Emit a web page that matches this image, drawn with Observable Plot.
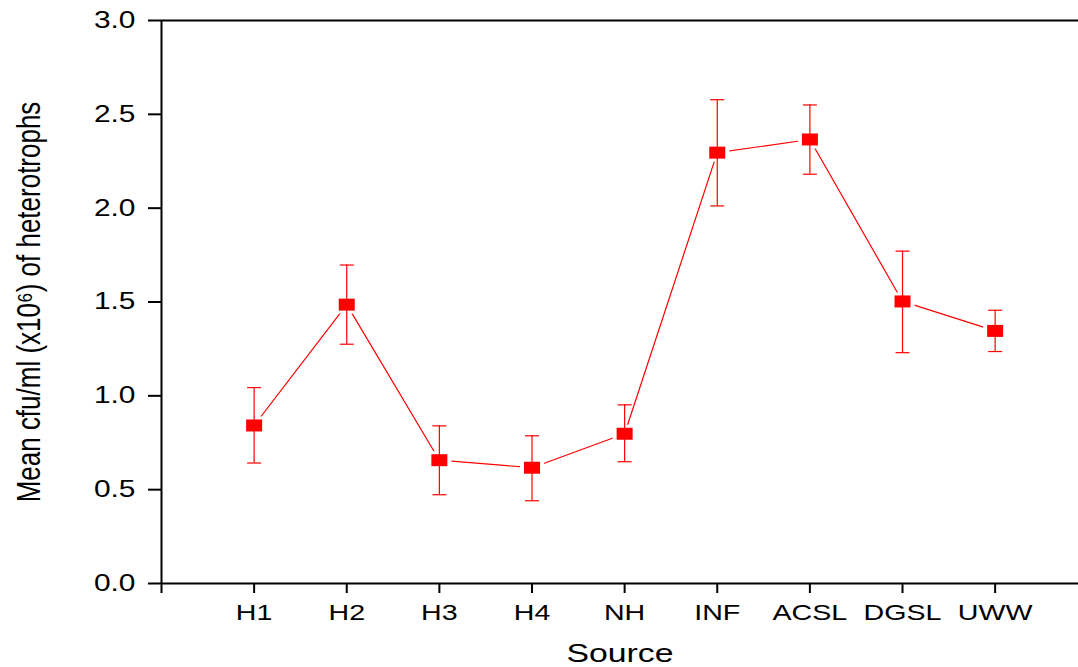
<!DOCTYPE html>
<html>
<head>
<meta charset="utf-8">
<script src="https://cdn.jsdelivr.net/npm/d3@7"></script>
<script src="https://cdn.jsdelivr.net/npm/@observablehq/plot@0.6"></script>
<style>
  html, body { margin: 0; padding: 0; background: #fff; }
  #chart svg { display: block; }
</style>
</head>
<body>
<div id="chart"></div>
<script>
const categories = ["H1", "H2", "H3", "H4", "NH", "INF", "ACSL", "DGSL", "UWW"];
const means = [0.842, 1.486, 0.657, 0.617, 0.798, 2.296, 2.366, 1.503, 1.346];
const upper = [1.044, 1.697, 0.840, 0.787, 0.952, 2.578, 2.550, 1.771, 1.456];
const lower = [0.642, 1.275, 0.473, 0.441, 0.649, 2.012, 2.181, 1.230, 1.236];
const yTicks = [0, 0.5, 1.0, 1.5, 2.0, 2.5, 3.0];
const xTicks = [0, 1, 2, 3, 4, 5, 6, 7, 8, 9];

const data = categories.map((c, i) => ({pos: i + 1, cat: c, mean: means[i], hi: upper[i], lo: lower[i]}));

const RED = "#ff0000";
const markerSym = {draw(ctx) { ctx.rect(-8, -6, 16, 12); }};
const haloSym = {draw(ctx) { ctx.rect(-12, -9, 24, 18); }};
const capSym = {draw(ctx) { ctx.moveTo(-7, 0); ctx.lineTo(7, 0); }};

const chart = Plot.plot({
  width: 1078,
  height: 667,
  marginLeft: 161,
  marginRight: 0,
  marginTop: 20,
  marginBottom: 84,
  style: {fontFamily: "'Liberation Sans', Arial, sans-serif", background: "#fff", color: "#000"},
  x: {type: "linear", domain: [0, 9.9]},
  y: {domain: [0, 3]},
  marks: [
    Plot.line(data, {x: "pos", y: "mean", stroke: RED, strokeWidth: 1.2}),
    Plot.dot(data, {x: "pos", y: "mean", symbol: haloSym, fill: "white", stroke: "none"}),
    Plot.ruleX(data, {x: "pos", y1: "lo", y2: "hi", stroke: RED, strokeWidth: 1.2}),
    Plot.dot(data, {x: "pos", y: "hi", symbol: capSym, fill: "none", stroke: RED, strokeWidth: 1.2}),
    Plot.dot(data, {x: "pos", y: "lo", symbol: capSym, fill: "none", stroke: RED, strokeWidth: 1.2}),
    Plot.dot(data, {x: "pos", y: "mean", symbol: markerSym, fill: RED, stroke: "none"}),
    Plot.ruleY([3], {stroke: "#000", strokeWidth: 2}),
    Plot.ruleY([0], {stroke: "#000", strokeWidth: 2}),
    Plot.ruleX([0], {stroke: "#000", strokeWidth: 2}),
    Plot.axisY({ticks: yTicks, tickSize: 13, tickPadding: 13, tickFormat: d3.format(".1f"), fontSize: 23, label: null, strokeWidth: 2}),
    Plot.axisX({ticks: xTicks, tickSize: 10, tickPadding: 11, tickFormat: i => categories[i - 1] ?? "", fontSize: 22, label: null, strokeWidth: 2}),
    Plot.text(["Source"], {frameAnchor: "bottom", textAnchor: "middle", lineAnchor: "bottom", dy: 78, fontSize: 26}),
    Plot.text(["Mean cfu/ml (x10\u2076) of heterotrophs"], {frameAnchor: "left", textAnchor: "middle", rotate: -90, lineAnchor: "middle", dx: -132, fontSize: 26})
  ]
});

// horizontal stretch of text to match the reference's wide glyphs
chart.querySelectorAll("text").forEach(t => {
  const tr = t.getAttribute("transform") || "";
  const rotated = /rotate/.test(tr);
  if (tr.includes("translate")) {
    t.setAttribute("transform", tr + (rotated ? " scale(1,1.3)" : " scale(1.3,1)"));
  } else {
    const x = +(t.getAttribute("x") || 0), y = +(t.getAttribute("y") || 0);
    t.setAttribute("transform", `translate(${x},${y}) scale(${rotated ? "1,1.3" : "1.3,1"}) translate(${-x},${-y})`);
  }
});

document.getElementById("chart").appendChild(chart);
</script>
</body>
</html>
